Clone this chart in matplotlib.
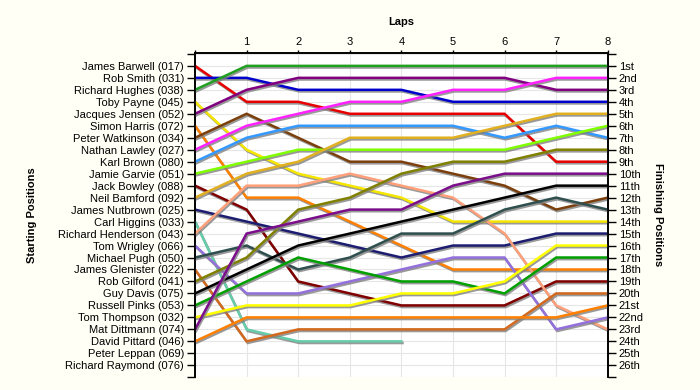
import matplotlib
matplotlib.use('Agg')
import matplotlib.pyplot as plt
import matplotlib.patheffects as pe

plt.rcParams['font.family'] = ['Liberation Sans', 'DejaVu Sans']

# Drivers in starting order
drivers = ['James Barwell (017)', 'Rob Smith (031)', 'Richard Hughes (038)', 'Toby Payne (045)',
           'Jacques Jensen (052)', 'Simon Harris (072)', 'Peter Watkinson (034)', 'Nathan Lawley (027)',
           'Karl Brown (080)', 'Jamie Garvie (051)', 'Jack Bowley (088)', 'Neil Bamford (092)',
           'James Nutbrown (025)', 'Carl Higgins (033)', 'Richard Henderson (043)', 'Tom Wrigley (066)',
           'Michael Pugh (050)', 'James Glenister (022)', 'Rob Gilford (041)', 'Guy Davis (075)',
           'Russell Pinks (053)', 'Tom Thompson (032)', 'Mat Dittmann (074)', 'David Pittard (046)',
           'Peter Leppan (069)', 'Richard Raymond (076)']

finish_labels = ['1st', '2nd', '3rd'] + ['%dth' % i for i in range(4, 21)] + \
                ['21st', '22nd', '23rd', '24th', '25th', '26th']

laps = [0, 1, 2, 3, 4, 5, 6, 7, 8]

# position after each lap (lap 0 = grid)
positions = [
    [1, 4, 4, 5, 5, 5, 5, 9, 9],
    [2, 2, 3, 3, 3, 4, 4, 4, 4],
    [3, 1, 1, 1, 1, 1, 1, 1, 1],
    [4, 8, 10, 11, 12, 14, 14, 14, 14],
    [5, 3, 2, 2, 2, 2, 2, 3, 3],
    [6, 12, 12, 14, 16, 18, 18, 18, 18],
    [7, 5, 7, 9, 9, 10, 11, 13, 12],
    [8, 6, 5, 4, 4, 3, 3, 2, 2],
    [9, 7, 6, 6, 6, 6, 7, 6, 7],
    [10, 9, 8, 8, 8, 8, 8, 7, 6],
    [11, 13, 19, 20, 21, 21, 21, 19, 19],
    [12, 10, 9, 7, 7, 7, 6, 5, 5],
    [13, 14, 15, 16, 17, 16, 16, 15, 15],
    [14, 23, 24, 24, 24],
    [15, 11, 11, 10, 11, 12, 15, 21, 23],
    [16, 20, 20, 19, 18, 17, 17, 23, 22],
    [17, 16, 18, 17, 15, 15, 13, 12, 13],
    [18, 24, 23, 23, 23, 23, 23, 20, 20],
    [19, 17, 13, 12, 10, 9, 9, 8, 8],
    [20, 18, 16, 15, 14, 13, 12, 11, 11],
    [21, 19, 17, 18, 19, 19, 20, 17, 17],
    [22, 21, 21, 21, 20, 20, 19, 16, 16],
    [23, 15, 14, 13, 13, 11, 10, 10, 10],
    [24, 22, 22, 22, 22, 22, 22, 22, 21],
]

colors = ['#e80000', '#0000cc', '#20a020', '#f5e600', '#800080', '#ff8000', '#7b3f0c', '#ff22ff',
          '#3399ff', '#80ff00', '#800000', '#e0b020', '#1c1c70', '#66cdaa', '#ffa07a', '#9370db',
          '#2f4f4f', '#d2691e', '#808000', '#000000', '#00a000', '#ffff00', '#7b0e8a', '#ff8000']

fig = plt.figure(figsize=(7, 3.9), dpi=100, facecolor='#fffff5')
ax = fig.add_axes([0.2786, 0.0326, 0.5896, 0.8323])
ax.set_facecolor('white')

shadow = [pe.SimpleLineShadow(offset=(0.8, -1.2), shadow_color='#808080', alpha=0.8), pe.Normal()]
for pos, c in zip(positions, colors):
    ax.plot(laps[:len(pos)], pos, color=c, lw=1.8, solid_joinstyle='miter',
            path_effects=shadow, zorder=3)

ax.set_xlim(0, 8)
ax.set_ylim(26.95, -0.1)

# top lap axis
ax.xaxis.tick_top()
ax.xaxis.set_label_position('top')
ax.set_xticks(laps)
ax.set_xticklabels([''] + [str(l) for l in laps[1:]], fontsize=8)
ax.set_xlabel('Laps', fontsize=8, fontweight='bold', labelpad=9)

# left: starting positions
ax.set_yticks(range(0, 28))
ax.set_yticklabels([''] + drivers + [''], fontsize=8)
ax.set_ylabel('Starting Positions', fontsize=8, fontweight='bold', labelpad=15)

ax.tick_params(axis='y', length=6, width=1, pad=2)
ax.tick_params(axis='x', length=2.5, width=1, pad=1.5)
ax.grid(True, color='#e6e6e6', lw=0.8, zorder=0)

# right: finishing positions
ax2 = ax.twinx()
ax2.set_ylim(ax.get_ylim())
ax2.set_yticks(range(0, 28))
ax2.set_yticklabels([''] + finish_labels + [''], fontsize=8)
ax2.tick_params(axis='y', length=6, width=1, pad=2)
ax2.set_ylabel('Finishing Positions', fontsize=8, fontweight='bold', rotation=-90, labelpad=14)

for a in (ax, ax2):
    a.spines['bottom'].set_visible(False)
    for s in ('left', 'right', 'top'):
        a.spines[s].set_linewidth(1.2)

fig.savefig('out.png', dpi=100, facecolor=fig.get_facecolor())
